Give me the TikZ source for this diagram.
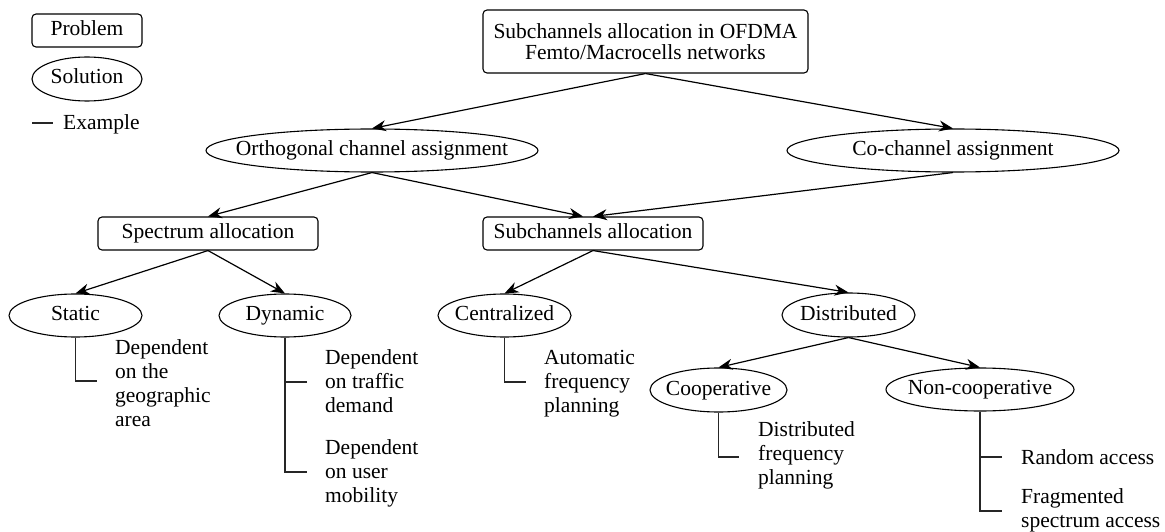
\documentclass[tikz,border=0pt]{standalone}
\usepackage{fontspec}
\setmainfont{Liberation Serif}
\usetikzlibrary{arrows.meta,shapes.geometric}
% zero-width text so that the ellipse size is set only by its minimum size
\newcommand\zerow[1]{\makebox[0pt]{#1}}
\begin{document}
\begin{tikzpicture}[x=1pt,y=-1pt,
  every node/.style={font=\rmfamily\fontsize{21.5}{24}\selectfont, inner sep=0pt},
  probbox/.style={draw, rounded corners=4pt, line width=1.1pt, text height=15pt, text depth=5pt},
  solell/.style={draw, ellipse, line width=1.1pt, text height=15pt, text depth=5pt},
  arr/.style={line width=1.2pt, -{Stealth[length=14pt,width=11pt,inset=4.5pt]}},
  exline/.style={line width=1.1pt, draw=black!85},
  extext/.style={anchor=west, align=left}]
\useasboundingbox (0,0) rectangle (1165,532);

% legend
\node[probbox, minimum width=110pt, minimum height=33pt] (legprob) at (87,30.5) {Problem};
\node[solell, minimum width=110pt, minimum height=44pt] (legsol) at (87,79) {\zerow{Solution}};
\coordinate (legA) at (32,123);
\coordinate (legB) at (53,123);
\draw[exline] (legA) -- (legB);
\node[anchor=west] (legex) at (63,124) {Example};

% problems and solutions
\node[draw, rounded corners=4pt, line width=1.1pt, align=center,
      font=\rmfamily\fontsize{21.5}{21.7}\selectfont, minimum width=325pt, minimum height=63pt]
      (top) at (645.5,41.5) {Subchannels allocation in OFDMA\\Femto/Macrocells networks};
\node[solell, minimum width=332pt, minimum height=43pt] (orth) at (372,150.5) {\zerow{Orthogonal channel assignment}};
\node[solell, minimum width=332pt, minimum height=43pt] (cochan) at (953,150.5) {\zerow{Co-channel assignment}};
\node[probbox, minimum width=220pt, minimum height=33pt] (spec) at (208,233.5) {Spectrum allocation};
\node[probbox, minimum width=220pt, minimum height=33pt] (subc) at (593,233.5) {Subchannels allocation};
\node[solell, minimum width=133pt, minimum height=43pt] (static) at (75.5,315.5) {\zerow{Static}};
\node[solell, minimum width=132pt, minimum height=43pt] (dyn) at (285,315.5) {\zerow{Dynamic}};
\node[solell, minimum width=133pt, minimum height=43pt] (cent) at (504.5,315.5) {\zerow{Centralized}};
\node[solell, minimum width=133pt, minimum height=44pt] (dist) at (848.5,315) {\zerow{Distributed}};
\node[solell, minimum width=137pt, minimum height=44pt] (coop) at (718.5,390) {\zerow{Cooperative}};
\node[solell, minimum width=188pt, minimum height=43pt] (noncoop) at (980,389.5) {\zerow{Non-cooperative}};

% tree arrows
\draw[arr] (top.south) -- (orth.north);
\draw[arr] (top.south) -- (cochan.north);
\draw[arr] (orth.south) -- (spec.north);
\draw[arr] (orth.south) -- ([xshift=-10pt]subc.north);
\draw[arr] (cochan.south) -- (subc.north);
\draw[arr] (spec.south) -- (static.north);
\draw[arr] (spec.south) -- (dyn.north);
\draw[arr] (subc.south) -- (cent.north);
\draw[arr] (subc.south) -- (dist.north);
\draw[arr] (dist.south) -- (coop.north);
\draw[arr] (dist.south) -- (noncoop.north);

% examples
\coordinate (tStatic) at (97,381);
\draw[exline] (static.south) |- (tStatic);
\node[extext] (exStatic) at (115,386) {\strut Dependent\\on the\\geographic\\area\strut};

\coordinate (tDynA) at (307,382);
\coordinate (tDynB) at (307,472);
\draw[exline] (dyn.south) |- (tDynB);
\draw[exline] (tDynA) -| (dyn.south);
\node[extext] (exDynA) at (325,384) {\strut Dependent\\on traffic\\demand\strut};
\node[extext] (exDynB) at (325,474) {\strut Dependent\\on user\\mobility\strut};

\coordinate (tCent) at (526,382);
\draw[exline] (cent.south) |- (tCent);
\node[extext] (exCent) at (544,384) {\strut Automatic\\frequency\\planning\strut};

\coordinate (tCoop) at (739,457);
\draw[exline] (coop.south) |- (tCoop);
\node[extext] (exCoop) at (758,456) {\strut Distributed\\frequency\\planning\strut};

\coordinate (tNonA) at (1002,457);
\coordinate (tNonB) at (1002,511);
\draw[exline] (noncoop.south) |- (tNonB);
\draw[exline] (tNonA) -| (noncoop.south);
\node[extext] (exNonA) at (1021,460) {\strut Random access\strut};
\node[extext] (exNonB) at (1021,511) {\strut Fragmented\\spectrum access\strut};
\end{tikzpicture}
\end{document}
